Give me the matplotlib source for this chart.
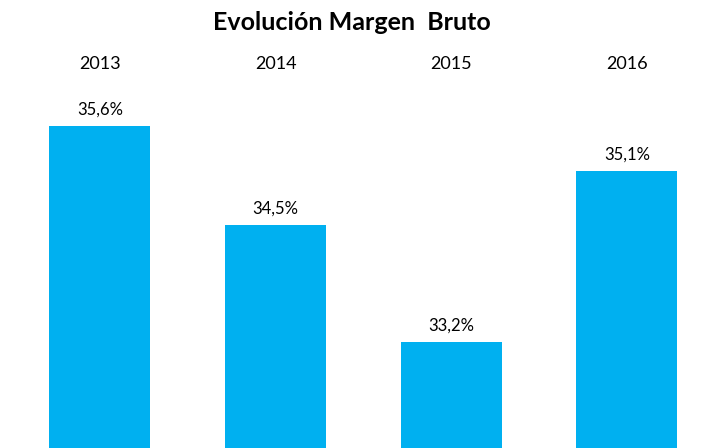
import matplotlib
matplotlib.use("Agg")
import matplotlib.pyplot as plt

years = ["2013", "2014", "2015", "2016"]
margins = [35.6, 34.5, 33.2, 35.1]
labels = ["35,6%", "34,5%", "33,2%", "35,1%"]
title = "Evolución Margen  Bruto"

plt.rcParams['font.family'] = ['Lato', 'DejaVu Sans']

fig = plt.figure(figsize=(7.02, 4.48), dpi=100)
ax = fig.add_axes([0, 0, 1, 1])
x = list(range(len(years)))
ax.bar(x, margins, width=0.575, color="#00B0F0", bottom=0)
ax.set_ylim(32.02, 37.0)
ax.set_xlim(-0.569, 3.427)
ax.axis("off")

for xi, v, lab in zip(x, margins, labels):
    ax.annotate(lab, (xi, v), xytext=(0, 6), textcoords="offset points",
                ha="center", va="bottom", fontsize=12, color="#000000")

for xi, yr in zip(x, years):
    ax.text(xi, 1 - 64/448, yr, transform=ax.get_xaxis_transform(),
            ha="center", va="center", fontsize=13, color="#000000")

fig.text(352/702, 1 - 22/448, title, ha="center", va="center",
         fontsize=18, fontweight="bold", color="#000000")

fig.savefig("out.png", dpi=100)
